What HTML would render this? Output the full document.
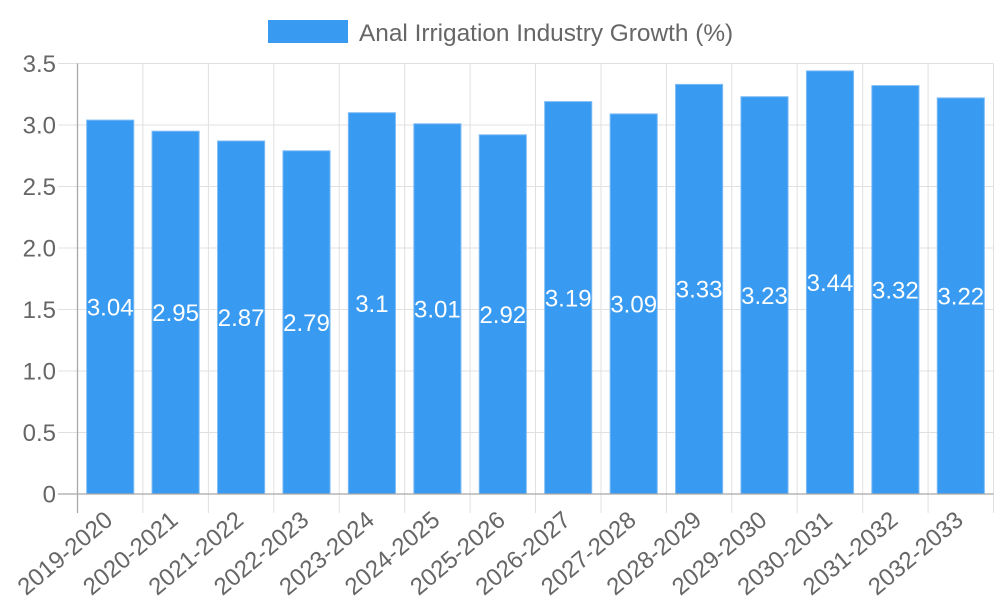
<!DOCTYPE html>
<html>
<head>
<meta charset="utf-8">
<style>
html,body{margin:0;padding:0;background:#fff;}
svg{display:block;}
text{font-family:"Liberation Sans",Arial,sans-serif;}
</style>
</head>
<body>
<svg width="1000" height="600" viewBox="0 0 1000 600" xmlns="http://www.w3.org/2000/svg">
<!-- legend -->
<rect x="268" y="20" width="80" height="23" fill="#389AF0"/>
<text x="359" y="41" font-size="24.4" fill="#666">Anal Irrigation Industry Growth (%)</text>

<!-- horizontal grid -->
<g stroke="#e0e0e0" stroke-width="1">
<line x1="58" y1="63.5" x2="993.5" y2="63.5"/>
<line x1="58" y1="125" x2="993.5" y2="125"/>
<line x1="58" y1="186.5" x2="993.5" y2="186.5"/>
<line x1="58" y1="248" x2="993.5" y2="248"/>
<line x1="58" y1="309.5" x2="993.5" y2="309.5"/>
<line x1="58" y1="371" x2="993.5" y2="371"/>
<line x1="58" y1="432.5" x2="993.5" y2="432.5"/>
</g>
<!-- vertical grid -->
<g stroke="#e0e0e0" stroke-width="1">
<line x1="142.9" y1="63.5" x2="142.9" y2="513"/>
<line x1="208.4" y1="63.5" x2="208.4" y2="513"/>
<line x1="273.8" y1="63.5" x2="273.8" y2="513"/>
<line x1="339.2" y1="63.5" x2="339.2" y2="513"/>
<line x1="404.7" y1="63.5" x2="404.7" y2="513"/>
<line x1="470.1" y1="63.5" x2="470.1" y2="513"/>
<line x1="535.5" y1="63.5" x2="535.5" y2="513"/>
<line x1="601.0" y1="63.5" x2="601.0" y2="513"/>
<line x1="666.4" y1="63.5" x2="666.4" y2="513"/>
<line x1="731.8" y1="63.5" x2="731.8" y2="513"/>
<line x1="797.2" y1="63.5" x2="797.2" y2="513"/>
<line x1="862.7" y1="63.5" x2="862.7" y2="513"/>
<line x1="928.1" y1="63.5" x2="928.1" y2="513"/>
<line x1="993.5" y1="63.5" x2="993.5" y2="513"/>
</g>

<!-- bars -->
<g fill="#389AF0" stroke="#7DBBF6" stroke-width="1">
<rect x="86.65" y="120.1" width="47.1" height="373.9"/>
<rect x="152.05" y="131.2" width="47.1" height="362.8"/>
<rect x="217.55" y="141.0" width="47.1" height="353.0"/>
<rect x="282.95" y="150.8" width="47.1" height="343.2"/>
<rect x="348.35" y="112.7" width="47.1" height="381.3"/>
<rect x="413.85" y="123.8" width="47.1" height="370.2"/>
<rect x="479.25" y="134.8" width="47.1" height="359.2"/>
<rect x="544.65" y="101.6" width="47.1" height="392.4"/>
<rect x="610.15" y="113.9" width="47.1" height="380.1"/>
<rect x="675.55" y="84.4" width="47.1" height="409.6"/>
<rect x="740.95" y="96.7" width="47.1" height="397.3"/>
<rect x="806.45" y="70.9" width="47.1" height="423.1"/>
<rect x="871.85" y="85.6" width="47.1" height="408.4"/>
<rect x="937.25" y="97.9" width="47.1" height="396.1"/>
</g>

<!-- axes -->
<line x1="77.5" y1="63.5" x2="77.5" y2="513" stroke="#a8a8a8" stroke-width="1.3"/>
<line x1="58" y1="494" x2="993.5" y2="494" stroke="#a8a8a8" stroke-width="1.3"/>

<!-- y labels -->
<g font-size="24" fill="#666" text-anchor="end">
<text x="56" y="72">3.5</text>
<text x="56" y="133.5">3.0</text>
<text x="56" y="195">2.5</text>
<text x="56" y="256.5">2.0</text>
<text x="56" y="318">1.5</text>
<text x="56" y="379.5">1.0</text>
<text x="56" y="441">0.5</text>
<text x="56" y="502.5">0</text>
</g>

<!-- value labels -->
<g font-size="24" fill="#fff" text-anchor="middle">
<text x="110.2" y="315.5">3.04</text>
<text x="175.6" y="321.1">2.95</text>
<text x="241.1" y="326">2.87</text>
<text x="306.5" y="330.9">2.79</text>
<text x="371.9" y="311.9">3.1</text>
<text x="437.4" y="317.4">3.01</text>
<text x="502.8" y="322.9">2.92</text>
<text x="568.2" y="306.3">3.19</text>
<text x="633.7" y="312.5">3.09</text>
<text x="699.1" y="297.7">3.33</text>
<text x="764.5" y="303.9">3.23</text>
<text x="830.0" y="290.9">3.44</text>
<text x="895.4" y="298.3">3.32</text>
<text x="960.8" y="304.5">3.22</text>
</g>

<!-- x labels -->
<g font-size="24" fill="#666" text-anchor="end">
<text transform="translate(108.7,516) rotate(-40)" dy="0.35em">2019-2020</text>
<text transform="translate(174.1,516) rotate(-40)" dy="0.35em">2020-2021</text>
<text transform="translate(239.6,516) rotate(-40)" dy="0.35em">2021-2022</text>
<text transform="translate(305.0,516) rotate(-40)" dy="0.35em">2022-2023</text>
<text transform="translate(370.4,516) rotate(-40)" dy="0.35em">2023-2024</text>
<text transform="translate(435.9,516) rotate(-40)" dy="0.35em">2024-2025</text>
<text transform="translate(501.3,516) rotate(-40)" dy="0.35em">2025-2026</text>
<text transform="translate(566.7,516) rotate(-40)" dy="0.35em">2026-2027</text>
<text transform="translate(632.2,516) rotate(-40)" dy="0.35em">2027-2028</text>
<text transform="translate(697.6,516) rotate(-40)" dy="0.35em">2028-2029</text>
<text transform="translate(763.0,516) rotate(-40)" dy="0.35em">2029-2030</text>
<text transform="translate(828.5,516) rotate(-40)" dy="0.35em">2030-2031</text>
<text transform="translate(893.9,516) rotate(-40)" dy="0.35em">2031-2032</text>
<text transform="translate(959.3,516) rotate(-40)" dy="0.35em">2032-2033</text>
</g>
</svg>
</body>
</html>
